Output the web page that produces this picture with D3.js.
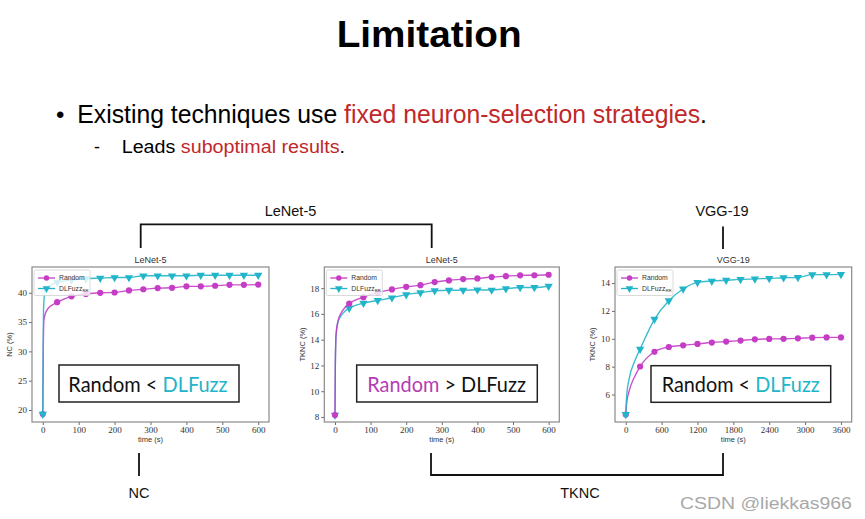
<!DOCTYPE html>
<html><head><meta charset="utf-8">
<script src="https://cdn.jsdelivr.net/npm/d3@7"></script>
<style>body{margin:0;background:#fff}svg{display:block}</style>
</head><body>
<svg id="c" width="865" height="519"></svg>
<script>
// ---------- data ----------
const lenetTimes = [0,40,80,120,160,200,240,280,320,360,400,440,480,520,560,600];
const vggTimes = [0,240,480,720,960,1200,1440,1680,1920,2160,2400,2640,2880,3120,3360,3600];

const ncRandom = [19.3,38.4,39.4,39.8,40.0,40.05,40.4,40.6,40.8,40.85,41.1,41.1,41.2,41.35,41.35,41.4];
const ncDLFuzz = [19.3,41.8,42.2,42.4,42.5,42.6,42.6,42.9,42.9,42.9,42.9,43.0,43.0,43.0,43.0,43.0];
const ncRandomEarlyT = [1,3,8,16,26];
const ncRandomEarlyV = [28,35.3,36.6,37.4,37.9];
const ncDLFuzzEarlyT = [2,6,15,25];
const ncDLFuzzEarlyV = [37,40.2,41.0,41.4];

const tkRandom = [8.15,16.8,17.3,17.65,17.9,18.1,18.23,18.47,18.6,18.7,18.75,18.86,18.93,18.99,19.0,19.04];
const tkDLFuzz = [8.15,16.44,16.83,17.04,17.25,17.5,17.64,17.8,17.84,17.84,17.87,17.85,17.95,18.05,18.05,18.15];
const tkEarlyT = [1,3,8,18,28];
const tkRandomEarlyV = [12,14.4,15.4,16.1,16.5];
const tkDLFuzzEarlyV = [12,14.3,15.3,15.9,16.2];

const vggRandom = [4.56,8.01,9.07,9.41,9.53,9.63,9.73,9.8,9.87,9.96,9.99,10.0,10.03,10.08,10.1,10.1];
const vggDLFuzz = [4.58,9.26,11.4,12.73,13.57,14.05,14.14,14.2,14.26,14.3,14.33,14.38,14.4,14.6,14.6,14.62];
const vggEarlyT = [15,60,150];
const vggRandomEarlyV = [5.4,6.3,7.3];
const vggDLFuzzEarlyV = [5.9,7.2,8.4];

const lenetXTicks = [0,100,200,300,400,500,600];
const vggXTicks = [0,600,1200,1800,2400,3000,3600];
const ncYTicks = [20,25,30,35,40];
const tkYTicks = [8,10,12,14,16,18];
const vggYTicks = [6,8,10,12,14];

const seriesNames = ["Random","DLFuzz"];

// ---------- drawing ----------
const svg = d3.select("#c");
const MAG = "#c53cc5", CYA = "#22b5c9", RED = "#c0282a";

function fitText(sel, x0, y0, targetW, anchor){
  const node = sel.node();
  const w = node.getComputedTextLength();
  const k = targetW / w;
  sel.attr("x",0).attr("y",0).attr("text-anchor", anchor||"start")
     .attr("transform", `translate(${x0},${y0}) scale(${k},1)`);
}

// Title and bullets
fitText(svg.append("text").attr("font-family","Liberation Sans, Arial").attr("font-weight","bold")
  .attr("font-size",37).attr("fill","#000").text("Limitation"), 336.7, 46.7, 185);

svg.append("text").attr("x",56).attr("y",123).attr("font-family","Liberation Sans, Arial")
  .attr("font-size",24).text("•");
{
  const t = svg.append("text").attr("font-family","Liberation Sans, Arial").attr("font-size",25).attr("fill","#000");
  t.append("tspan").text("Existing techniques use ");
  t.append("tspan").attr("fill",RED).text("fixed neuron-selection strategies");
  t.append("tspan").text(".");
  fitText(t, 77.3, 123.3, 630);
}
svg.append("text").attr("x",94).attr("y",152.5).attr("font-family","Liberation Sans, Arial")
  .attr("font-size",18).text("-");
{
  const t = svg.append("text").attr("font-family","Liberation Sans, Arial").attr("font-size",17.5).attr("fill","#000");
  t.append("tspan").text("Leads ");
  t.append("tspan").attr("fill",RED).text("suboptimal results");
  t.append("tspan").text(".");
  fitText(t, 121.7, 152.7, 223.5);
}

// brackets
const br = svg.append("g").attr("fill","none").attr("stroke","#111").attr("stroke-width",1.8);
br.append("path").attr("d","M140.7,248 V224.3 H431.7 V248");
br.append("path").attr("d","M723,226.5 V249");
br.append("path").attr("d","M139,453 V476");
br.append("path").attr("d","M431,453 V475 H723 V453");
const lab = (x,y,s)=>svg.append("text").attr("x",x).attr("y",y).attr("text-anchor","middle")
  .attr("font-family","Liberation Sans, Arial").attr("font-size",14.5).attr("fill","#111").text(s);
lab(290.5,215.7,"LeNet-5");
lab(722,215.7,"VGG-19");
lab(139,498,"NC");
lab(580,498,"TKNC");
fitText(svg.append("text").attr("font-family","Liberation Sans, Arial").attr("font-size",16)
  .attr("fill","#a8a8a8").text("CSDN @liekkas966"), 680, 509, 172);

// panels
function buildCurve(times, vals, eT, eV){
  const pts = times.map((t,i)=>({t, v: vals[i]}));
  eT.forEach((t,i)=>pts.push({t, v:eV[i]}));
  pts.sort((a,b)=>a.t-b.t);
  return pts;
}

function panel(cfg){
  const g = svg.append("g");
  const x = d3.scaleLinear().domain(cfg.xDom).range([cfg.x0, cfg.x1]);
  const y = d3.scaleLinear().domain(cfg.yDom).range([cfg.y1, cfg.y0]);
  const xa = g.append("g").attr("transform",`translate(0,${cfg.y1})`)
    .call(d3.axisBottom(x).tickValues(cfg.xTicks).tickSize(3).tickPadding(2).tickFormat(d3.format("d")));
  const ya = g.append("g").attr("transform",`translate(${cfg.x0},0)`)
    .call(d3.axisLeft(y).tickValues(cfg.yTicks).tickSize(3).tickPadding(2).tickFormat(d3.format("d")));
  [xa,ya].forEach(a=>{
    a.attr("font-family","Liberation Serif, DejaVu Serif, serif");
    a.select(".domain").remove();
    a.selectAll(".tick line").attr("stroke","#444").attr("stroke-width",0.8);
    a.selectAll(".tick text").attr("font-family","Liberation Serif, DejaVu Serif, serif").attr("font-size",9).attr("fill","#333");
  });
  g.append("rect").attr("x",cfg.x0).attr("y",cfg.y0).attr("width",cfg.x1-cfg.x0).attr("height",cfg.y1-cfg.y0)
    .attr("fill","none").attr("stroke","#8a8a8a").attr("stroke-width",1.2);
  g.append("text").attr("x",(cfg.x0+cfg.x1)/2).attr("y",cfg.y0-4).attr("text-anchor","middle")
    .attr("font-family","Liberation Sans, Arial").attr("font-size",9).attr("fill","#333").text(cfg.title);
  g.append("text").attr("x",(cfg.x0+cfg.x1)/2).attr("y",cfg.y1+20).attr("text-anchor","middle")
    .attr("font-family","Liberation Sans, Arial").attr("font-size",7.5).attr("fill","#333").text("time (s)");
  g.append("text").attr("transform",`translate(${cfg.ylabX},${(cfg.y0+cfg.y1)/2}) rotate(-90)`).attr("text-anchor","middle")
    .attr("font-family","Liberation Sans, Arial").attr("font-size",7.5).attr("fill","#333").text(cfg.ylab);

  const line = d3.line().x(d=>x(d.t)).y(d=>y(d.v)).curve(d3.curveMonotoneX);
  const clip = "clip"+cfg.id;
  g.append("clipPath").attr("id",clip).append("rect").attr("x",cfg.x0).attr("y",cfg.y0)
    .attr("width",cfg.x1-cfg.x0).attr("height",cfg.y1-cfg.y0);
  const pg = g.append("g").attr("clip-path",`url(#${clip})`);
  cfg.series.forEach(s=>{
    const pts = buildCurve(cfg.times, s.vals, s.eT, s.eV);
    pg.append("path").attr("d",line(pts)).attr("fill","none").attr("stroke",s.color).attr("stroke-width",1.4).attr("opacity",0.9);
    const mk = cfg.times.map((t,i)=>({t, v:s.vals[i]}));
    if(s.marker==="circle"){
      pg.selectAll(null).data(mk).join("circle").attr("cx",d=>x(d.t)).attr("cy",d=>y(d.v)).attr("r",3.1).attr("fill",s.color);
    } else {
      const tri = d3.symbol().type(d3.symbolTriangle).size(30);
      pg.selectAll(null).data(mk).join("path").attr("d",tri())
        .attr("transform",d=>`translate(${x(d.t)},${y(d.v)}) rotate(180)`).attr("fill",s.color);
    }
  });
  const lx = cfg.x0+2, ly = cfg.y0+3;
  const lg = g.append("g");
  lg.append("rect").attr("x",lx).attr("y",ly).attr("width",56).attr("height",25.5).attr("rx",1.5)
    .attr("fill","#fff").attr("fill-opacity",0.8).attr("stroke","#d0d0d0").attr("stroke-width",0.8);
  const leg = [{c:MAG,m:"circle",n:seriesNames[0]},{c:CYA,m:"tri",n:seriesNames[1]}];
  leg.forEach((e,i)=>{
    const cy = ly+8+i*10.5;
    lg.append("line").attr("x1",lx+4).attr("x2",lx+21).attr("y1",cy).attr("y2",cy).attr("stroke",e.c).attr("stroke-width",1.3);
    if(e.m==="circle") lg.append("circle").attr("cx",lx+12.5).attr("cy",cy).attr("r",2.7).attr("fill",e.c);
    else lg.append("path").attr("d",d3.symbol().type(d3.symbolTriangle).size(26)())
      .attr("transform",`translate(${lx+12.5},${cy}) rotate(180)`).attr("fill",e.c);
    const tx = lg.append("text").attr("x",lx+25).attr("y",cy+2.3).attr("font-family","Liberation Sans, Arial")
      .attr("font-size",6.8).attr("fill","#333").text(e.n);
    if(i===1) tx.append("tspan").attr("font-size",4.2).attr("dy",1.5).text("RR");
  });
  const b = cfg.box;
  g.append("rect").attr("x",b.x).attr("y",b.y).attr("width",b.w).attr("height",b.h)
    .attr("fill","#fff").attr("stroke","#222").attr("stroke-width",1.5);
  const t = g.append("text").attr("font-family","Lato, Open Sans, sans-serif").attr("font-size",21).attr("fill","#111");
  b.parts.forEach(p=>t.append("tspan").attr("fill",p[1]).text(p[0]));
  fitText(t, b.tx0, b.ty, b.tw);
}

panel({id:1, title:"LeNet-5", ylab:"NC (%)", ylabX:11.5, x0:32, x1:269, y0:267, y1:422,
  xDom:[-30,630], yDom:[17.95,44.4], xTicks:lenetXTicks, yTicks:ncYTicks, times:lenetTimes,
  series:[
    {vals:ncRandom, eT:ncRandomEarlyT, eV:ncRandomEarlyV, color:MAG, marker:"circle"},
    {vals:ncDLFuzz, eT:ncDLFuzzEarlyT, eV:ncDLFuzzEarlyV, color:CYA, marker:"tri"}],
  box:{x:59,y:365,w:180,h:37, tx0:68.3, ty:391.7, tw:159.4, parts:[["Random < ","#111"],["DLFuzz",CYA]]}});

panel({id:2, title:"LeNet-5", ylab:"TKNC (%)", ylabX:305, x0:324.3, x1:559.3, y0:267, y1:422,
  xDom:[-30,630], yDom:[7.61,19.64], xTicks:lenetXTicks, yTicks:tkYTicks, times:lenetTimes,
  series:[
    {vals:tkDLFuzz, eT:tkEarlyT, eV:tkDLFuzzEarlyV, color:CYA, marker:"tri"},
    {vals:tkRandom, eT:tkEarlyT, eV:tkRandomEarlyV, color:MAG, marker:"circle"}],
  box:{x:356.7,y:365,w:180.6,h:37, tx0:367.3, ty:391.7, tw:158.7, parts:[["Random","#b43cb4"],[" > DLFuzz","#111"]]}});

panel({id:3, title:"VGG-19", ylab:"TKNC (%)", ylabX:595, x0:615, x1:851.7, y0:267, y1:422,
  xDom:[-180,3780], yDom:[4.03,15.15], xTicks:vggXTicks, yTicks:vggYTicks, times:vggTimes,
  series:[
    {vals:vggRandom, eT:vggEarlyT, eV:vggRandomEarlyV, color:MAG, marker:"circle"},
    {vals:vggDLFuzz, eT:vggEarlyT, eV:vggDLFuzzEarlyV, color:CYA, marker:"tri"}],
  box:{x:651,y:365.7,w:179.7,h:36.6, tx0:661.7, ty:392.3, tw:158.3, parts:[["Random < ","#111"],["DLFuzz",CYA]]}});
</script>
</body></html>
